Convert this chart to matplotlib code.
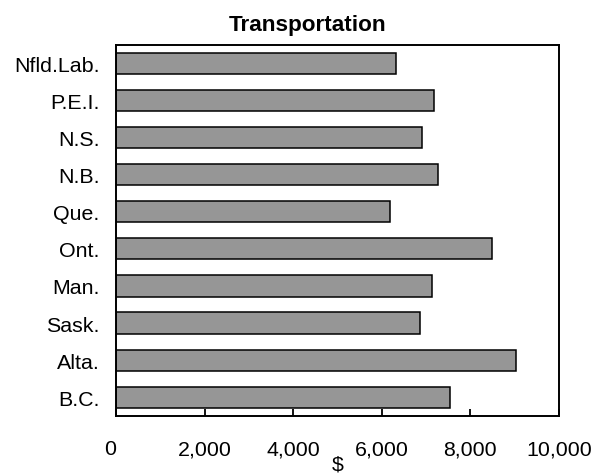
import matplotlib
matplotlib.use("Agg")
import matplotlib.pyplot as plt
import matplotlib.transforms as mtransforms

plt.rcParams['font.family'] = ['Liberation Sans', 'DejaVu Sans']

# Data
provinces = ['Nfld.Lab.', 'P.E.I.', 'N.S.', 'N.B.', 'Que.',
             'Ont.', 'Man.', 'Sask.', 'Alta.', 'B.C.']
spending = [6310, 7170, 6900, 7260, 6180, 8480, 7130, 6860, 9030, 7540]
xticks = [0, 2000, 4000, 6000, 8000, 10000]

fig = plt.figure(figsize=(6.13, 4.77), dpi=100)
ax = fig.add_axes([0.1892, 0.1264, 0.7227, 0.7772])

# first province at the top
ypos = list(range(len(provinces)))[::-1]
ax.barh(ypos, spending, height=0.57, color='#969696',
        edgecolor='black', linewidth=1.1)

ax.set_xlim(0, 10000)
ax.set_ylim(-0.5, len(provinces) - 0.5)
ax.set_yticks(ypos)
ax.set_yticklabels(provinces, fontsize=15.4)
ax.set_xticks(xticks)
ax.set_xticklabels([f'{v:,}' for v in xticks], fontsize=15.4)

ax.tick_params(axis='x', direction='in', length=5, width=1.3, pad=17)
ax.tick_params(axis='y', length=0, pad=12)

for s in ax.spines.values():
    s.set_linewidth(1.4)

# the "0" label sits a bit left of the axis in the original
lbl0 = ax.get_xticklabels()[0]
lbl0.set_transform(lbl0.get_transform() +
                   mtransforms.ScaledTranslation(-6 / 100, 0, fig.dpi_scale_trans))

ax.set_xlabel('$', fontsize=15.4, labelpad=-3)
# title is a little left of centre in the original
ax.set_title('Transportation', fontsize=16.2, fontweight='bold', pad=11, x=0.433)

fig.savefig('out.png', dpi=100)
